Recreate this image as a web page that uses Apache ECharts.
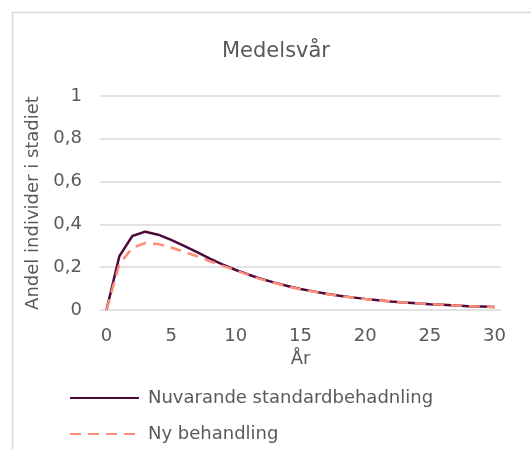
<!DOCTYPE html>
<html>
<head>
<meta charset="utf-8">
<script src="https://cdn.jsdelivr.net/npm/echarts@6/dist/echarts.min.js"></script>
<style>
html,body{margin:0;padding:0;background:#fff;}
#chart{width:531px;height:450px;}
</style>
</head>
<body>
<div id="chart"></div>
<script>
const years = ['0','1','2','3','4','5','6','7','8','9','10','11','12','13','14','15','16','17','18','19','20','21','22','23','24','25','26','27','28','29','30'];
const nuvarande = [0,0.252,0.346,0.366,0.352,0.328,0.300,0.270,0.240,0.212,0.187,0.165,0.145,0.128,0.112,0.098,0.087,0.076,0.067,0.059,0.052,0.046,0.040,0.035,0.031,0.027,0.024,0.021,0.018,0.016,0.014];
const nyBehandling = [0,0.215,0.290,0.313,0.308,0.292,0.272,0.251,0.228,0.206,0.185,0.163,0.143,0.126,0.110,0.097,0.086,0.075,0.066,0.058,0.051,0.045,0.040,0.035,0.031,0.027,0.024,0.021,0.018,0.016,0.014];
const yTicks = [0,0.2,0.4,0.6,0.8,1];

const font = 'DejaVu Sans';
const grey = '#595959';
const chart = echarts.init(document.getElementById('chart'), null, {renderer:'canvas'});
chart.setOption({
  animation:false,
  backgroundColor:'#fff',
  textStyle:{fontFamily:font},
  graphic:[{type:'rect',shape:{x:12.5,y:12.5,width:620,height:620},style:{fill:'none',stroke:'#D9D9D9',lineWidth:1.5},silent:true}],
  title:{text:'Medelsvår',left:271,top:36,textAlign:'center',textStyle:{fontFamily:font,fontSize:21,fontWeight:'normal',color:grey}},
  grid:{left:100,right:30,top:96,bottom:140,containLabel:false},
  legend:{
    orient:'vertical',left:64,top:384,itemWidth:69,itemHeight:14,itemGap:18,
    itemStyle:{opacity:0,borderWidth:0},
    textStyle:{fontFamily:font,fontSize:18,color:grey,padding:[0,0,0,4]},
    data:['Nuvarande standardbehadnling','Ny behandling']
  },
  xAxis:{
    type:'category',data:years,boundaryGap:true,
    name:'År',nameLocation:'middle',nameGap:40,
    nameTextStyle:{fontFamily:font,fontSize:18,color:grey},
    axisLine:{show:false},axisTick:{show:false},
    axisLabel:{interval:4,margin:17,fontFamily:font,fontSize:18,color:grey},
    splitLine:{show:false}
  },
  yAxis:{
    type:'value',min:yTicks[0],max:yTicks[yTicks.length-1],interval:0.2,
    name:'Andel individer i stadiet',nameLocation:'middle',nameGap:55,
    nameTextStyle:{fontFamily:font,fontSize:18,color:grey},
    axisLine:{show:false},axisTick:{show:false},
    axisLabel:{margin:18,fontFamily:font,fontSize:18,color:grey,formatter:v=>String(Math.round(v*10)/10).replace('.',',')},
    splitLine:{lineStyle:{color:'#D9D9D9',width:1.5}}
  },
  series:[
    {name:'Nuvarande standardbehadnling',type:'line',data:nuvarande,symbol:'none',
     lineStyle:{color:'#4B0B3A',width:2.5,type:'solid'},itemStyle:{color:'#4B0B3A'},z:2},
    {name:'Ny behandling',type:'line',data:nyBehandling,symbol:'none',
     lineStyle:{color:'#FF8B78',width:2.5,type:[11,7]},itemStyle:{color:'#FF8B78'},z:3}
  ]
});
</script>
</body>
</html>
